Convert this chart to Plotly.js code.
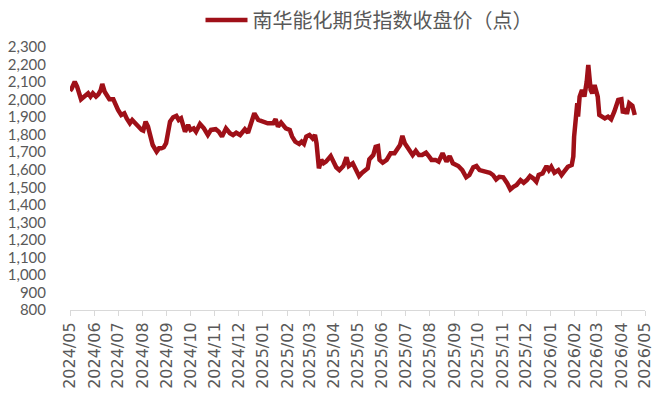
<!DOCTYPE html>
<html>
<head>
<meta charset="utf-8">
<script src="https://cdn.plot.ly/plotly-3.0.1.min.js"></script>
<style>html,body{margin:0;padding:0;background:#fff;}#chart{width:658px;height:406px;}</style>
</head>
<body>
<div id="chart"></div>
<script>
const seriesName = '南华能化期货指数收盘价（点）';
const dates = [
'2024-05-01','2024-05-03','2024-05-07','2024-05-10','2024-05-15','2024-05-20','2024-05-24','2024-05-27','2024-05-30','2024-06-03',
'2024-06-06','2024-06-09','2024-06-11','2024-06-14','2024-06-18','2024-06-20','2024-06-25','2024-06-27','2024-07-01','2024-07-05',
'2024-07-09','2024-07-12','2024-07-16','2024-07-19','2024-07-22','2024-07-26','2024-07-31','2024-08-02','2024-08-05','2024-08-08',
'2024-08-11','2024-08-14','2024-08-19','2024-08-22','2024-08-25','2024-08-28','2024-08-31','2024-09-02','2024-09-05','2024-09-09',
'2024-09-13','2024-09-16','2024-09-19','2024-09-24','2024-09-28','2024-10-01','2024-10-05','2024-10-08','2024-10-13','2024-10-18',
'2024-10-23','2024-10-27','2024-11-02','2024-11-06','2024-11-10','2024-11-15','2024-11-20','2024-11-24','2024-11-28','2024-12-03',
'2024-12-09','2024-12-13','2024-12-17','2024-12-21','2024-12-26','2025-01-01','2025-01-07','2025-01-14','2025-01-17','2025-01-20',
'2025-01-24','2025-01-30','2025-02-04','2025-02-07','2025-02-11','2025-02-16','2025-02-19','2025-02-22','2025-02-25','2025-03-01',
'2025-03-05','2025-03-08','2025-03-10','2025-03-13','2025-03-16','2025-03-19','2025-03-22','2025-03-28','2025-03-31','2025-04-04',
'2025-04-08','2025-04-13','2025-04-17','2025-04-20','2025-04-25','2025-04-29','2025-05-03','2025-05-07','2025-05-11','2025-05-14',
'2025-05-16','2025-05-21','2025-05-24','2025-05-27','2025-05-29','2025-06-02','2025-06-07','2025-06-12','2025-06-17','2025-06-20',
'2025-06-24','2025-06-27','2025-06-30','2025-07-03','2025-07-07','2025-07-10','2025-07-14','2025-07-18','2025-07-22','2025-07-27',
'2025-07-31','2025-08-03','2025-08-08','2025-08-12','2025-08-17','2025-08-22','2025-08-26','2025-08-30','2025-09-06','2025-09-11',
'2025-09-16','2025-09-20','2025-09-25','2025-09-29','2025-10-03','2025-10-09','2025-10-16','2025-10-20','2025-10-24','2025-10-28',
'2025-11-02','2025-11-07','2025-11-11','2025-11-15','2025-11-19','2025-11-24','2025-11-28','2025-12-02','2025-12-06','2025-12-10',
'2025-12-14','2025-12-17','2025-12-22','2025-12-27','2025-12-30','2026-01-02','2026-01-06','2026-01-11','2026-01-15','2026-01-19',
'2026-01-23','2026-01-28','2026-01-30','2026-01-31','2026-02-02','2026-02-04','2026-02-05','2026-02-07','2026-02-10','2026-02-13',
'2026-02-16','2026-02-18','2026-02-21','2026-02-23','2026-02-26','2026-02-28','2026-03-02','2026-03-04','2026-03-07','2026-03-11',
'2026-03-15','2026-03-19','2026-03-23','2026-03-28','2026-04-01','2026-04-03','2026-04-06','2026-04-08','2026-04-11','2026-04-15',
'2026-04-18'
];
const closes = [
2050,2062,2102,2074,2002,2021,2036,2017,2036,2017,
2030,2054,2089,2045,2017,2002,2002,1979,1941,1912,
1922,1893,1865,1884,1869,1846,1827,1823,1874,1846,
1789,1741,1703,1722,1722,1728,1751,1789,1874,1899,
1907,1884,1893,1817,1855,1827,1836,1817,1861,1836,
1798,1827,1831,1817,1789,1836,1808,1798,1811,1798,
1831,1811,1865,1922,1884,1874,1865,1865,1888,1846,
1869,1836,1827,1789,1760,1747,1760,1747,1789,1798,
1779,1798,1751,1608,1656,1637,1646,1678,1646,1614,
1598,1621,1671,1621,1637,1598,1564,1583,1594,1608,
1659,1684,1731,1735,1656,1640,1656,1694,1694,1717,
1741,1793,1751,1731,1703,1684,1708,1684,1684,1697,
1675,1656,1656,1646,1694,1646,1678,1637,1621,1598,
1557,1570,1614,1621,1598,1594,1583,1570,1545,1560,
1557,1523,1488,1503,1513,1541,1526,1541,1564,1551,
1532,1570,1579,1621,1598,1617,1583,1598,1570,1594,
1617,1627,1675,1789,1903,1979,1903,2017,2055,2017,
2102,2197,2055,2036,2083,2036,2017,1912,1903,1893,
1903,1888,1931,1998,2002,1922,1950,1918,1979,1965,
1912
];
const tickDates = ['2024-05-01','2024-06-01','2024-07-01','2024-08-01','2024-09-01','2024-10-01','2024-11-01','2024-12-01',
'2025-01-01','2025-02-01','2025-03-01','2025-04-01','2025-05-01','2025-06-01','2025-07-01','2025-08-01','2025-09-01',
'2025-10-01','2025-11-01','2025-12-01','2026-01-01','2026-02-01','2026-03-01','2026-04-01','2026-05-01'];
const tickLabels = ['2024/05','2024/06','2024/07','2024/08','2024/09','2024/10','2024/11','2024/12',
'2025/01','2025/02','2025/03','2025/04','2025/05','2025/06','2025/07','2025/08','2025/09',
'2025/10','2025/11','2025/12','2026/01','2026/02','2026/03','2026/04','2026/05'];

const trace = {
  x: dates, y: closes, type: 'scatter', mode: 'lines', name: seriesName,
  line: {color: '#9f1018', width: 4.5}
};
const layout = {
  width: 658, height: 406,
  margin: {l: 70, r: 13, t: 47, b: 96, autoexpand: false},
  paper_bgcolor: '#ffffff', plot_bgcolor: '#ffffff',
  showlegend: true,
  legend: {orientation: 'h', x: 0.52, xanchor: 'center', yref: 'container', y: 0.951, yanchor: 'middle',
    font: {family: 'Noto Sans CJK SC', size: 20, color: '#595959'}, itemwidth: 42,
    bgcolor: 'rgba(0,0,0,0)'},
  xaxis: {
    type: 'date', range: ['2024-05-01', '2026-05-01'],
    tickmode: 'array', tickvals: tickDates, ticktext: tickLabels, tickangle: -90,
    showgrid: false, zeroline: false, showline: true, linecolor: '#d9d9d9', linewidth: 1,
    ticks: 'outside', ticklen: 5, tickcolor: '#d9d9d9',
    tickfont: {family: 'DejaVu Sans', size: 16, color: '#595959'}
  },
  yaxis: {
    range: [800, 2300], dtick: 100, tick0: 800, tickformat: ',d',
    showgrid: false, zeroline: false, showline: false,
    ticks: 'outside', ticklen: 20, tickcolor: 'rgba(0,0,0,0)',
    tickfont: {family: 'Lato', size: 15, color: '#595959'}
  }
};
Plotly.newPlot('chart', [trace], layout, {displayModeBar: false, staticPlot: true});
</script>
</body>
</html>
